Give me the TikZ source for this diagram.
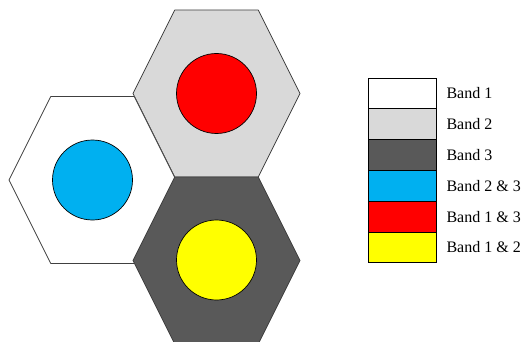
\documentclass[tikz,border=0pt]{standalone}
\usepackage{fontspec}
\setmainfont{Liberation Serif}
\usetikzlibrary{positioning}

\definecolor{bandtwo}{HTML}{D9D9D9}
\definecolor{bandthree}{HTML}{595959}
\definecolor{bandtwothree}{HTML}{00B0F0}
\definecolor{bandonethree}{HTML}{FF0000}
\definecolor{bandonetwo}{HTML}{FFFF00}
\definecolor{hexedge}{HTML}{404040}

\tikzset{
  hexline/.style={draw=hexedge, line width=0.8pt, line join=round},
  spot/.style={circle, draw=black, line width=0.7pt, minimum size=80pt, inner sep=0pt},
  keybox/.style={rectangle, draw=black, line width=0.7pt, minimum width=68pt, minimum height=30.8pt, inner sep=0pt},
  keytext/.style={font=\fontsize{16}{19}\selectfont, inner sep=0pt, anchor=west}
}

\begin{document}
\begin{tikzpicture}[x=1pt, y=-1pt]
  \useasboundingbox (0,0) rectangle (527,342);
  \begin{scope}
  \clip (0,0) rectangle (527,342);
  % hexagon cells
  \foreach \cx/\cy/\col in {216.5/93.5/bandtwo, 92.5/180/white, 216.5/260.5/bandthree}
    \draw[hexline, fill=\col, shift={(\cx,\cy)}]
      (-83.5,0) -- (-41.75,-83.5) -- (41.75,-83.5) -- (83.5,0) -- (41.75,83.5) -- (-41.75,83.5) -- cycle;
  \end{scope}
  % overlap spots
  \node[spot, fill=bandonethree] (red) at (216.5,93.5) {};
  \node[spot, fill=bandtwothree] (blue) at (92.5,180) {};
  \node[spot, fill=bandonetwo] (yellow) at (216.5,260) {};
  % legend
  \foreach \i/\col/\txt in {0/white/Band 1, 1/bandtwo/Band 2, 2/bandthree/Band 3,
                            3/bandtwothree/Band 2 \& 3, 4/bandonethree/Band 1 \& 3, 5/bandonetwo/Band 1 \& 2}
  {
    \node[keybox, fill=\col] (key\i) at (402,93.4+30.8*\i) {};
    \node[keytext, right=10pt of key\i] (lab\i) {\txt};
  }
\end{tikzpicture}
\end{document}
